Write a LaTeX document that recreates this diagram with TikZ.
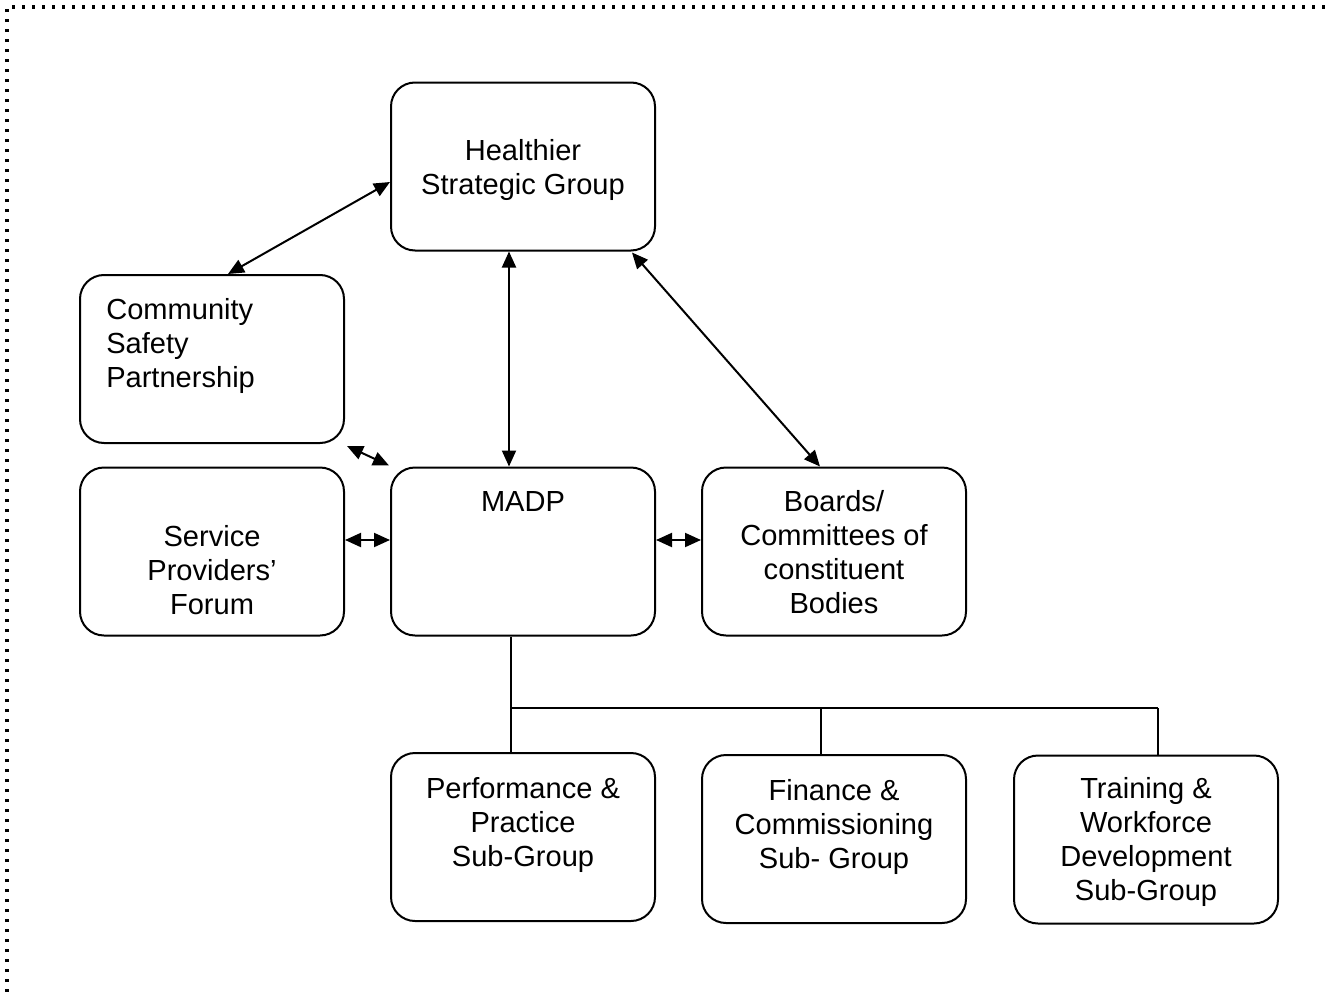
\documentclass[tikz,border=0pt]{standalone}
\usepackage{fontspec}
\setmainfont{Liberation Sans}
\usetikzlibrary{arrows.meta,calc}
\begin{document}
\begin{tikzpicture}[x=0.75pt,y=-0.75pt,
  box/.style={draw,line width=1.5pt,rounded corners=18pt,minimum width=198pt,minimum height=126pt,inner sep=0pt},
  txt/.style={font=\fontsize{21.8}{25.5}\selectfont,align=center,inner sep=0pt},
  conn/.style={line width=1.5pt},
  biarrow/.style={conn,{Triangle[length=12pt,width=10.5pt]}-{Triangle[length=12pt,width=10.5pt]}},
  border/.style={line width=2.4pt,dash pattern=on 2.4pt off 5.1pt}]
\useasboundingbox (0,0) rectangle (1325,992);
\draw[border] (7,992) -- (7,7) -- (1325,7);

\node[box] (hsg) at (523,166.5) {};
\node[box] (csp) at (212,359) {};
\node[box] (spf) at (212,551.5) {};
\node[box] (madp) at (523,551.5) {};
\node[box] (brd) at (834,551.5) {};
\node[box] (perf) at (523,837) {};
\node[box] (fin) at (834,839) {};
\node[box] (trn) at (1146,839.5) {};

\node[txt] (thsg) at (523,170) {Healthier\\Strategic Group};
\node[txt,anchor=west,align=left] (tcsp) at (106,346) {Community\\Safety\\Partnership};
\node[txt] (tspf) at (212,570) {Service\\Providers’\\Forum};
\node[txt] (tmadp) at (523,501) {MADP};
\node[txt] (tbrd) at (834,552) {Boards/\\Committees of\\constituent\\Bodies};
\node[txt] (tperf) at (523,825) {Performance \&\\Practice\\Sub-Group};
\node[txt] (tfin) at (834,827) {Finance \&\\Commissioning\\Sub- Group};
\node[txt] (ttrn) at (1146,842) {Training \&\\Workforce\\Development\\Sub-Group};

\draw[biarrow] ($(hsg.west)+(0,15.5)$) -- ($(csp.north)+(16,0)$);
\draw[biarrow] ($(hsg.south)+(-14,0)$) -- ($(madp.north)+(-14,0)$);
\draw[biarrow] ($(hsg.south east)+(-24,1)$) -- ($(brd.north)+(-14,0)$);
\draw[biarrow] ($(csp.south east)+(2,2)$) -- ($(madp.north west)+(-1,-1)$);
\draw[biarrow] ($(spf.east)+(0,-11.5)$) -- ($(madp.west)+(0,-11.5)$);
\draw[biarrow] ($(madp.east)+(0,-11.5)$) -- ($(brd.west)+(0,-11.5)$);

\coordinate (j1) at (511,708);
\coordinate (j2) at (821,708);
\coordinate (j3) at (1158,708);
\draw[conn] (madp.south -| j1) -- (perf.north -| j1);
\draw[conn] (j1) -- (j3);
\draw[conn] (j2) -- (fin.north -| j2);
\draw[conn] (j3) -- (trn.north -| j3);
\end{tikzpicture}
\end{document}
